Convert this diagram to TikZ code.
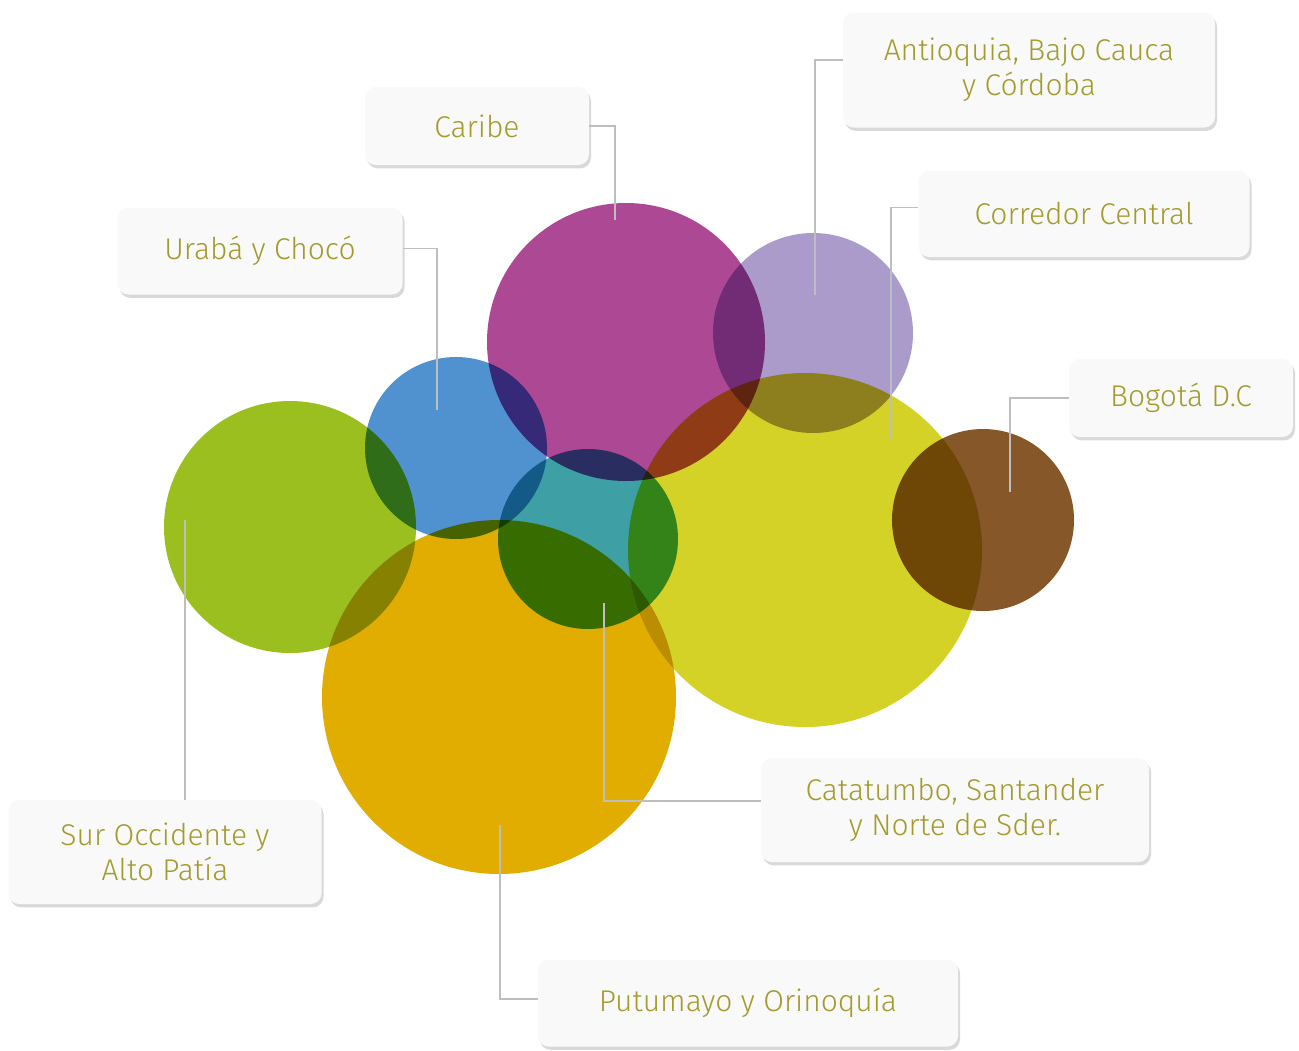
\documentclass[tikz,border=0pt]{standalone}
\usepackage{fontspec}
\setmainfont{Fira Sans}[UprightFont={* Light}]
\usetikzlibrary{shadows}

\definecolor{verde}{RGB}{154,191,31}
\definecolor{azul}{RGB}{80,146,208}
\definecolor{magenta}{RGB}{172,72,148}
\definecolor{lavanda}{RGB}{170,155,202}
\definecolor{amarillo}{RGB}{212,210,39}
\definecolor{cafe}{RGB}{133,87,41}
\definecolor{naranja}{RGB}{224,173,0}
\definecolor{turquesa}{RGB}{62,160,165}
\definecolor{boxfill}{RGB}{248,249,248}
\definecolor{textolive}{RGB}{163,155,45}
\definecolor{linegray}{RGB}{190,190,190}

\begin{document}
\begin{tikzpicture}[x=0.75pt, y=-0.75pt,
  region/.style={rounded corners=8pt, fill=boxfill, text=textolive, align=center,
    inner sep=0pt, font=\fontsize{22.5}{26}\selectfont,
    drop shadow={shadow xshift=1.5pt, shadow yshift=-2.5pt, fill=black, opacity=0.15}},
  leader/.style={draw=linegray, line width=0.8pt}]

  \useasboundingbox (0,0) rectangle (1299,1050);

  % Circles
  \begin{scope}[blend group=multiply]
    \fill[verde] (290,527) circle (126);
    \fill[azul] (456,448) circle (91);
    \fill[magenta] (626,342) circle (139);
    \fill[lavanda] (813,333) circle (100);
    \fill[amarillo] (805,550) circle (177);
    \fill[cafe] (983,520) circle (91);
    \fill[naranja] (499,697) circle (177);
    \fill[turquesa] (588,539) circle (90);
  \end{scope}

  % Regions
  \node[region, minimum width=168pt, minimum height=58.5pt] (caribe) at (477,126) {Caribe};
  \node[region, minimum width=279pt, minimum height=86.25pt] (antioquia) at (1029,70) {Antioquia, Bajo Cauca\\y Córdoba};
  \node[region, minimum width=248.25pt, minimum height=64.5pt] (corredor) at (1084,214) {Corredor Central};
  \node[region, minimum width=213.75pt, minimum height=65.25pt] (uraba) at (260,251) {Urabá y Chocó};
  \node[region, minimum width=168pt, minimum height=58.5pt] (bogota) at (1181,398) {Bogotá D.C};
  \node[region, minimum width=291pt, minimum height=78pt] (catatumbo) at (955,810) {Catatumbo, Santander\\y Norte de Sder.};
  \node[region, minimum width=234.75pt, minimum height=78pt] (sur) at (165,852) {Sur Occidente y\\Alto Patía};
  \node[region, minimum width=315pt, minimum height=65.25pt] (putumayo) at (748,1003) {Putumayo y Orinoquía};

  % Leader ends
  \coordinate (caribe end) at (615,220);
  \coordinate (antioquia end) at (815,295);
  \coordinate (corredor end) at (891,440);
  \coordinate (bogota end) at (1010,492);
  \coordinate (uraba end) at (437,410);
  \coordinate (sur end) at (185,520);
  \coordinate (putumayo end) at (500,825);
  \coordinate (catatumbo end) at (604,603);

  % Leaders
  \draw[leader] (caribe.east) -| (caribe end);
  \draw[leader] ([yshift=7.5pt]antioquia.west) -| (antioquia end);
  \draw[leader] ([yshift=5pt]corredor.west) -| (corredor end);
  \draw[leader] (bogota.west) -| (bogota end);
  \draw[leader] ([yshift=2pt]uraba.east) -| (uraba end);
  \draw[leader] (sur end) -- (sur end |- sur.north);
  \draw[leader] ([yshift=3pt]putumayo.west) -| (putumayo end);
  \draw[leader] ([yshift=6.75pt]catatumbo.west) -| (catatumbo end);

\end{tikzpicture}
\end{document}
